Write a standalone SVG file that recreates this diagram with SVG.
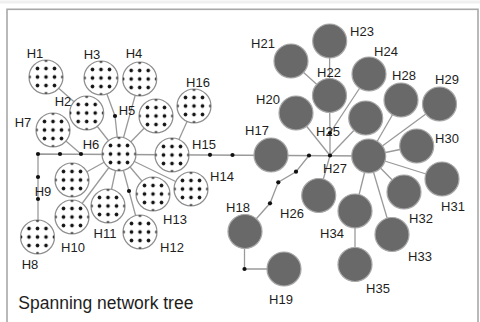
<svg xmlns="http://www.w3.org/2000/svg" width="480" height="322" viewBox="0 0 480 322">
<defs>
<pattern id="dots" patternUnits="userSpaceOnUse" x="-4.25" y="-4.25" width="8.5" height="8.5">
<rect width="8.5" height="8.5" fill="#fff"/>
<circle cx="4.25" cy="4.25" r="1.8" fill="#111"/>
</pattern>
<style>
.ln{stroke:#9a9a9a;stroke-width:1.3;fill:none}
.w{fill:url(#dots);stroke:#8e8e8e;stroke-width:1.2}
.g{fill:#696969;stroke:#a8a8a8;stroke-width:1.2}
.j{fill:#111}
text{font-family:"Liberation Sans",Arial,sans-serif;font-size:13px;fill:#1e1e1e;text-anchor:middle}
.title{font-size:17.5px;text-anchor:start}
</style>
</defs>
<rect width="480" height="322" fill="#fff"/>
<line x1="0" y1="2" x2="480" y2="2" stroke="#f0f0f0" stroke-width="3"/>
<rect x="7" y="9.3" width="471" height="330" fill="none" stroke="#a8a8a8" stroke-width="1.6"/>
<g id="connectors">
<polyline class="ln" points="38,237 38,154 368.7,156"/>
<line class="ln" x1="46" y1="77" x2="86.7" y2="113"/>
<line class="ln" x1="86.7" y1="113" x2="119" y2="154"/>
<polyline class="ln" points="101,78 115,116 119,154"/>
<line class="ln" x1="139.7" y1="79" x2="119" y2="154"/>
<line class="ln" x1="156" y1="116" x2="119" y2="154"/>
<line class="ln" x1="194" y1="106" x2="172" y2="155"/>
<line class="ln" x1="53" y1="130" x2="81" y2="154"/>
<line class="ln" x1="72" y1="180" x2="119" y2="154"/>
<line class="ln" x1="72" y1="217" x2="119" y2="154"/>
<line class="ln" x1="108" y1="206" x2="119" y2="154"/>
<polyline class="ln" points="140,232 129,191 119,154"/>
<line class="ln" x1="153" y1="194" x2="119" y2="154"/>
<line class="ln" x1="191" y1="189" x2="119" y2="154"/>
<polyline class="ln" points="245,231.5 270,203.3 278.3,182.3 296,171.7 309,155.5"/>
<polyline class="ln" points="244.5,231.5 244.5,269 284,269"/>
<line class="ln" x1="296" y1="113" x2="330" y2="155.5"/>
<line class="ln" x1="291" y1="61" x2="329" y2="95.5"/>
<line class="ln" x1="329.7" y1="41" x2="329.5" y2="95.5"/>
<polyline class="ln" points="329.5,95.5 330,133 330,155.5"/>
<line class="ln" x1="369" y1="74" x2="330" y2="133"/>
<line class="ln" x1="365.7" y1="118" x2="330" y2="155.5"/>
<line class="ln" x1="318.7" y1="195.5" x2="330" y2="155.5"/>
<line class="ln" x1="401" y1="100" x2="368.7" y2="156"/>
<line class="ln" x1="439.5" y1="104" x2="368.7" y2="156"/>
<line class="ln" x1="416.7" y1="146" x2="368.7" y2="156"/>
<line class="ln" x1="442" y1="179" x2="368.7" y2="156"/>
<line class="ln" x1="404" y1="192" x2="368.7" y2="156"/>
<line class="ln" x1="392" y1="234.5" x2="368.7" y2="156"/>
<line class="ln" x1="355" y1="211" x2="368.7" y2="156"/>
<line class="ln" x1="355" y1="211" x2="355" y2="264.5"/>
</g>
<g id="H1"><g transform="translate(46,77)"><circle class="w" r="17"/></g><text x="35" y="57.6">H1</text></g>
<g id="H2"><g transform="translate(86.7,113)"><circle class="w" r="17"/></g><text x="63" y="106.3">H2</text></g>
<g id="H3"><g transform="translate(101,78)"><circle class="w" r="17"/></g><text x="92" y="58.6">H3</text></g>
<g id="H4"><g transform="translate(139.7,79)"><circle class="w" r="17"/></g><text x="134" y="57.6">H4</text></g>
<g id="H5"><g transform="translate(156,116)"><circle class="w" r="17"/></g><text x="127" y="114.6">H5</text></g>
<g id="H6"><g transform="translate(119,154)"><circle class="w" r="17"/></g><text x="91" y="149">H6</text></g>
<g id="H7"><g transform="translate(53,130)"><circle class="w" r="17"/></g><text x="23" y="126.6">H7</text></g>
<g id="H8"><g transform="translate(37.5,237)"><circle class="w" r="17"/></g><text x="30" y="268.6">H8</text></g>
<g id="H9"><text x="43" y="195.6">H9</text></g>
<g id="H9a"><g transform="translate(72,180)"><circle class="w" r="17"/></g></g>
<g id="H10"><g transform="translate(72,217)"><circle class="w" r="17"/></g><text x="73" y="251.6">H10</text></g>
<g id="H11"><g transform="translate(108,206)"><circle class="w" r="17"/></g><text x="105" y="237.6">H11</text></g>
<g id="H12"><g transform="translate(140,232)"><circle class="w" r="17"/></g><text x="172" y="251.6">H12</text></g>
<g id="H13"><g transform="translate(153,194)"><circle class="w" r="17"/></g><text x="175" y="223.6">H13</text></g>
<g id="H14"><g transform="translate(191,189)"><circle class="w" r="17"/></g><text x="222" y="180.6">H14</text></g>
<g id="H15"><g transform="translate(172,155)"><circle class="w" r="17"/></g><text x="204" y="148.6">H15</text></g>
<g id="H16"><g transform="translate(194,106)"><circle class="w" r="17"/></g><text x="198" y="86.6">H16</text></g>
<g id="H17"><circle class="g" cx="271" cy="155" r="17"/><text x="257" y="135.2">H17</text></g>
<g id="H18"><circle class="g" cx="245" cy="231.5" r="17"/><text x="238" y="211.6">H18</text></g>
<g id="H19"><circle class="g" cx="284" cy="269" r="17"/><text x="281" y="303.6">H19</text></g>
<g id="H20"><circle class="g" cx="296" cy="113" r="17"/><text x="268" y="103.6">H20</text></g>
<g id="H21"><circle class="g" cx="291" cy="61" r="17"/><text x="263" y="47.6">H21</text></g>
<g id="H22"><circle class="g" cx="329.5" cy="95.5" r="17"/><text x="329" y="76.6">H22</text></g>
<g id="H23"><circle class="g" cx="329.7" cy="41" r="17"/><text x="362" y="35.6">H23</text></g>
<g id="H24"><circle class="g" cx="369" cy="74" r="17"/><text x="386" y="55.6">H24</text></g>
<g id="H25"><circle class="g" cx="365.7" cy="118" r="17"/><text x="328" y="135.6">H25</text></g>
<g id="H26"><circle class="g" cx="318.7" cy="195.5" r="17"/><text x="292" y="217.6">H26</text></g>
<g id="H27"><circle class="g" cx="368.7" cy="156" r="17"/><text x="335" y="172.6">H27</text></g>
<g id="H28"><circle class="g" cx="401" cy="100" r="17"/><text x="404" y="79.6">H28</text></g>
<g id="H29"><circle class="g" cx="439.5" cy="104" r="17"/><text x="447" y="83.6">H29</text></g>
<g id="H30"><circle class="g" cx="416.7" cy="146" r="17"/><text x="447" y="142.6">H30</text></g>
<g id="H31"><circle class="g" cx="442" cy="179" r="17"/><text x="453" y="210.6">H31</text></g>
<g id="H32"><circle class="g" cx="404" cy="192" r="17"/><text x="421" y="222.6">H32</text></g>
<g id="H33"><circle class="g" cx="392" cy="234.5" r="17"/><text x="420" y="260.6">H33</text></g>
<g id="H34"><circle class="g" cx="355" cy="211" r="17"/><text x="332" y="237.6">H34</text></g>
<g id="H35"><circle class="g" cx="355" cy="264.5" r="17"/><text x="378" y="292.6">H35</text></g>
<g id="junctions">
<circle class="j" cx="38" cy="154" r="2.1"/>
<circle class="j" cx="60" cy="154" r="2.1"/>
<circle class="j" cx="81" cy="154" r="2.1"/>
<circle class="j" cx="38" cy="177" r="2.1"/>
<circle class="j" cx="38" cy="199" r="2.1"/>
<circle class="j" cx="115" cy="116" r="2.1"/>
<circle class="j" cx="129" cy="191" r="2.1"/>
<circle class="j" cx="210" cy="154.8" r="2.1"/>
<circle class="j" cx="232.5" cy="155" r="2.1"/>
<circle class="j" cx="309" cy="155.5" r="2.1"/>
<circle class="j" cx="330" cy="155.5" r="2.1"/>
<circle class="j" cx="330" cy="133" r="2.1"/>
<circle class="j" cx="270" cy="203.3" r="2.1"/>
<circle class="j" cx="278.3" cy="182.3" r="2.1"/>
<circle class="j" cx="296" cy="171.7" r="2.1"/>
<circle class="j" cx="244.5" cy="269" r="2.1"/>
</g>
<text class="title" x="18.3" y="308.5">Spanning network tree</text>
</svg>
